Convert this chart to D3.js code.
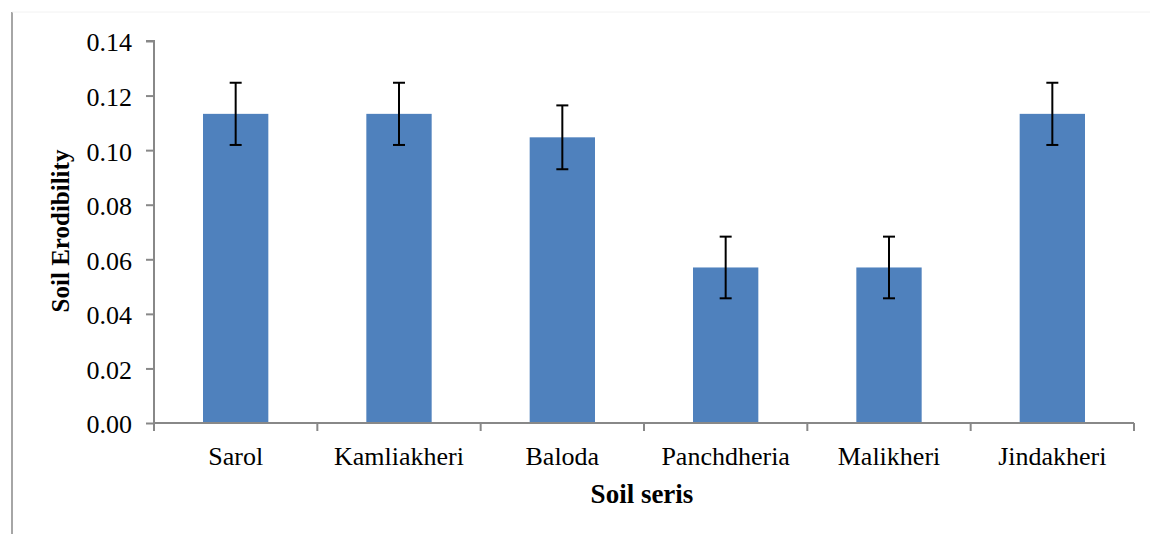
<!DOCTYPE html>
<html><head><meta charset="utf-8">
<script src="https://cdn.jsdelivr.net/npm/d3@7"></script>
<style>body{margin:0;background:#fff;} svg{display:block;}</style>
</head><body>
<script>
const categories = ["Sarol","Kamliakheri","Baloda","Panchdheria","Malikheri","Jindakheri"];
const values = [0.1133, 0.1133, 0.1047, 0.0570, 0.0570, 0.1133];
const errors = [0.0114, 0.0114, 0.0117, 0.0113, 0.0113, 0.0114];
const yTicks = [0, 0.02, 0.04, 0.06, 0.08, 0.10, 0.12, 0.14];

const W = 1150, H = 534;
const svg = d3.select("body").append("svg").attr("width", W).attr("height", H);
const font = "'Liberation Serif', 'Times New Roman', serif";
const fs = 26;

// outer frame lines
svg.append("line").attr("x1",12).attr("x2",12).attr("y1",12).attr("y2",534).attr("stroke","#888").attr("stroke-width",1.5);
svg.append("line").attr("x1",12).attr("x2",1150).attr("y1",12).attr("y2",12).attr("stroke","#f2f2f2").attr("stroke-width",1);

const x0 = 154, x1 = 1134, yTop = 41, yBot = 423;
const x = d3.scaleBand().domain(categories).range([x0, x1]).paddingInner(0.6).paddingOuter(0.3);
const y = d3.scaleLinear().domain([0, 0.14]).range([yBot, yTop]);

// bars
svg.selectAll("rect.bar").data(categories).enter().append("rect")
  .attr("x", d => x(d)).attr("width", x.bandwidth())
  .attr("y", (d,i) => y(values[i])).attr("height", (d,i) => yBot - y(values[i]))
  .attr("fill", "#4f81bd");

// error bars
const eb = svg.append("g").attr("stroke","#000").attr("stroke-width",2);
categories.forEach((c,i) => {
  const cx = x(c) + x.bandwidth()/2;
  const hi = y(values[i] + errors[i]), lo = y(values[i] - errors[i]);
  eb.append("line").attr("x1",cx).attr("x2",cx).attr("y1",hi).attr("y2",lo);
  eb.append("line").attr("x1",cx-6).attr("x2",cx+6).attr("y1",hi).attr("y2",hi);
  eb.append("line").attr("x1",cx-6).attr("x2",cx+6).attr("y1",lo).attr("y2",lo);
});

// y axis
const yAxis = d3.axisLeft(y).tickValues(yTicks).tickFormat(d3.format(".2f")).tickSize(8).tickPadding(14);
const gy = svg.append("g").attr("transform", `translate(${x0},0)`).call(yAxis);
gy.select(".domain").attr("stroke","#888").attr("stroke-width",2).attr("d", `M-8,${yTop}H0V${yBot}`);
gy.selectAll(".tick line").attr("stroke","#888").attr("stroke-width",2);
gy.selectAll(".tick text").attr("font-family",font).attr("font-size",fs).attr("fill","#000").attr("dy","0.38em");

// x axis
const gx = svg.append("g").attr("transform", `translate(0,${yBot})`);
gx.append("line").attr("x1",x0).attr("x2",x1).attr("stroke","#888").attr("stroke-width",2);
const bounds = categories.map(c => x(c) - x.step()*x.paddingInner()/2);
bounds.push(x1);
bounds[0] = x0;
gx.selectAll("line.t").data(bounds).enter().append("line")
  .attr("x1", d=>d).attr("x2", d=>d).attr("y1",0).attr("y2",8).attr("stroke","#888").attr("stroke-width",2);
gx.selectAll("text").data(categories).enter().append("text")
  .attr("x", d => x(d) + x.bandwidth()/2).attr("y", 42)
  .attr("text-anchor","middle").attr("font-family",font).attr("font-size",fs).attr("fill","#000")
  .text(d => d);

// titles
svg.append("text").attr("x", 642).attr("y", 503).attr("text-anchor","middle")
  .attr("font-family",font).attr("font-size",fs+1).attr("font-weight","bold").text("Soil seris");
svg.append("text").attr("transform","translate(69,231) rotate(-90)").attr("text-anchor","middle")
  .attr("font-family",font).attr("font-size",25).attr("font-weight","bold").text("Soil Erodibility");
</script>
</body></html>
